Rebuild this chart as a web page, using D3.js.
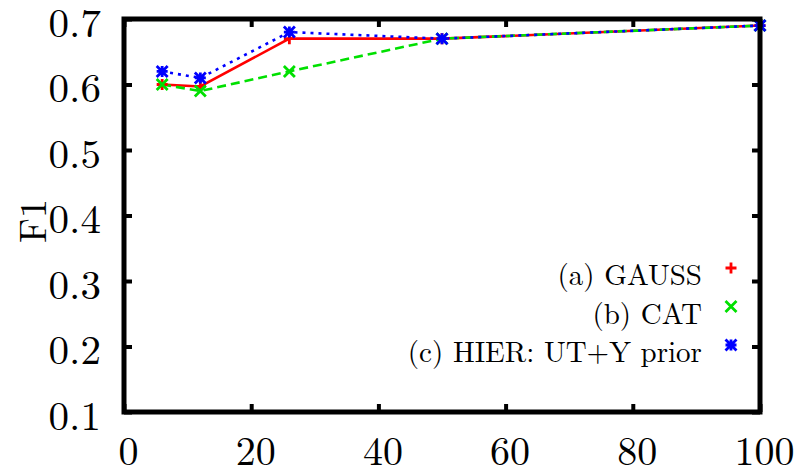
<!DOCTYPE html>
<html>
<head>
<meta charset="utf-8">
<script src="https://cdn.jsdelivr.net/npm/d3@7"></script>
<style>
  html, body { margin: 0; padding: 0; background: #fff; }
  svg text {
    font-family: "CMU Serif", "Latin Modern Roman", "Liberation Serif", "Tinos", "Times New Roman", "Times",
                 "Nimbus Roman", "Nimbus Roman No9 L", "FreeSerif", "DejaVu Serif", "Noto Serif", serif;
    fill: #000;
  }
</style>
</head>
<body>
<svg id="chart" width="799" height="473"></svg>
<script>
// Training set size (%) on x, F1 on y
const xValues = [6, 12, 26, 50, 100];
const gaussF1 = [0.60, 0.597, 0.67, 0.67, 0.69];
const catF1   = [0.60, 0.59, 0.62, 0.67, 0.69];
const hierF1  = [0.62, 0.61, 0.68, 0.67, 0.69];

const xTicks = [0, 20, 40, 60, 80, 100];
const yTicks = [0.1, 0.2, 0.3, 0.4, 0.5, 0.6, 0.7];

const seriesNames = ["(a) GAUSS", "(b) CAT", "(c) HIER: UT+Y prior"];

const series = [
  { name: seriesNames[0], values: gaussF1, color: "#ff0000", dash: null,  marker: "plus" },
  { name: seriesNames[1], values: catF1,   color: "#00e000", dash: "9,5", marker: "cross" },
  { name: seriesNames[2], values: hierF1,  color: "#0000ff", dash: "3,5", marker: "star" }
];

const svg = d3.select("#chart");
const plotLeft = 124, plotRight = 760, plotTop = 19, plotBottom = 412;

const x = d3.scaleLinear().domain([0, 100]).range([plotLeft, plotRight]);
const y = d3.scaleLinear().domain([0.1, 0.7]).range([plotBottom, plotTop]);

// Data lines (drawn first, under the frame)
const line = d3.line().x((d, i) => x(xValues[i])).y(d => y(d));
series.forEach(s => {
  svg.append("path")
    .datum(s.values)
    .attr("d", line)
    .attr("fill", "none")
    .attr("stroke", s.color)
    .attr("stroke-width", 2.6)
    .attr("stroke-dasharray", s.dash);
});

// Point symbols in gnuplot style
function markerPath(type, r) {
  const p = d3.path();
  if (type === "plus" || type === "star") {
    p.moveTo(-r, 0); p.lineTo(r, 0);
    p.moveTo(0, -r); p.lineTo(0, r);
  }
  if (type === "cross" || type === "star") {
    p.moveTo(-r, -r); p.lineTo(r, r);
    p.moveTo(-r, r); p.lineTo(r, -r);
  }
  return p.toString();
}

series.forEach(s => {
  svg.append("g").selectAll("path")
    .data(s.values)
    .join("path")
    .attr("transform", (d, i) => `translate(${x(xValues[i])},${y(d)})`)
    .attr("d", markerPath(s.marker, 5.5))
    .attr("fill", "none")
    .attr("stroke", s.color)
    .attr("stroke-width", 2.8);
});

// Frame with inward ticks on all four sides
const tickLen = 8;
const axisBottom = d3.axisBottom(x).tickValues(xTicks).tickSize(-tickLen).tickFormat(d3.format("d"));
const axisTop = d3.axisTop(x).tickValues(xTicks).tickSize(-tickLen).tickFormat("");
const axisLeft = d3.axisLeft(y).tickValues(yTicks).tickSize(-tickLen).tickFormat(d3.format(".1f")).tickPadding(23);
const axisRight = d3.axisRight(y).tickValues(yTicks).tickSize(-tickLen).tickFormat("");

function styleAxis(g) {
  g.attr("font-family", null);
  g.select(".domain").remove();
  g.selectAll(".tick line").attr("stroke", "#000").attr("stroke-width", 4);
  g.selectAll(".tick text").attr("font-size", 41).attr("fill", "#000");
}

const gb = svg.append("g").attr("transform", `translate(0,${plotBottom})`).call(axisBottom).call(styleAxis);
gb.selectAll(".tick text").attr("font-size", 40).attr("y", 53).attr("dx", 4).attr("dy", null);
svg.append("g").attr("transform", `translate(0,${plotTop})`).call(axisTop).call(styleAxis);
const gl = svg.append("g").attr("transform", `translate(${plotLeft},0)`).call(axisLeft).call(styleAxis);
gl.selectAll(".tick text").attr("dy", "0.42em");
svg.append("g").attr("transform", `translate(${plotRight},0)`).call(axisRight).call(styleAxis);

svg.append("rect")
  .attr("x", plotLeft).attr("y", plotTop)
  .attr("width", plotRight - plotLeft).attr("height", plotBottom - plotTop)
  .attr("fill", "none").attr("stroke", "#000").attr("stroke-width", 5);

// Y axis title
svg.append("text")
  .attr("transform", "translate(46,221) rotate(-90)")
  .attr("text-anchor", "middle")
  .attr("font-size", 38)
  .text("F1");

// Legend: right-aligned names with point symbols
const legendTextX = 702, legendMarkX = 731, legendY0 = 268, legendStep = 38.5;
series.forEach((s, i) => {
  const yy = legendY0 + i * legendStep;
  svg.append("text")
    .attr("x", legendTextX).attr("y", yy + 17)
    .attr("text-anchor", "end")
    .attr("font-size", 29)
    .text(s.name);
  svg.append("path")
    .attr("transform", `translate(${legendMarkX},${yy})`)
    .attr("d", markerPath(s.marker, 5.5))
    .attr("fill", "none")
    .attr("stroke", s.color)
    .attr("stroke-width", 2.8);
});
</script>
</body>
</html>
